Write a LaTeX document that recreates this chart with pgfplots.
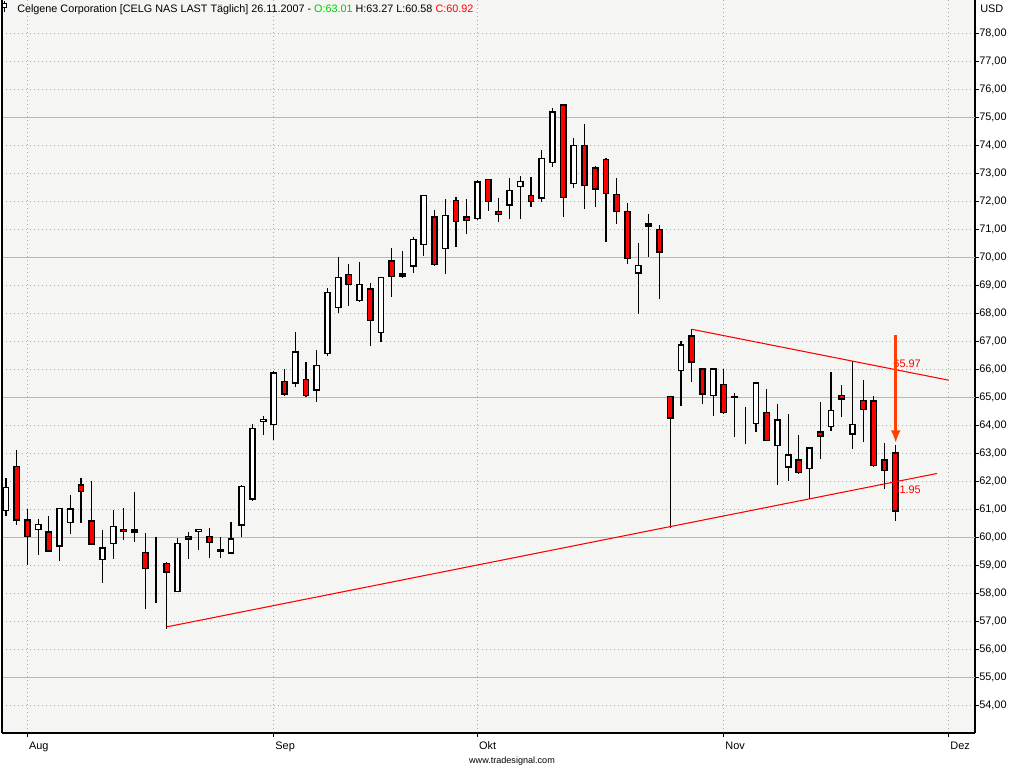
\documentclass[border=0pt]{standalone}
\usepackage{pgfplots}
\pgfplotsset{compat=1.18}
\usepackage{pgfplotstable}
\usetikzlibrary{arrows.meta}
\usepackage{fontspec}
\setmainfont{Liberation Sans}
\definecolor{bgc}{RGB}{245,246,243}
\definecolor{majgrid}{RGB}{178,190,168}
\definecolor{mingrid}{RGB}{165,178,150}
\definecolor{cred}{RGB}{255,0,0}
\definecolor{arrowc}{RGB}{255,64,0}
\definecolor{tgreen}{RGB}{0,200,0}

\pgfplotstableread{
i O H L C
0 60.95 62.09 60.76 61.77
1 62.52 63.11 60.44 60.60
2 60.60 61.00 59.01 60.02
3 60.27 60.63 59.37 60.45
4 60.17 60.74 59.45 59.49
5 59.67 61.03 59.15 61.02
6 60.52 61.50 60.12 60.99
7 61.85 62.09 60.51 61.63
8 60.57 62.01 59.72 59.74
9 59.20 60.25 58.37 59.60
10 59.77 60.96 59.23 60.38
11 60.27 61.02 59.90 60.20
12 60.17 61.61 59.83 60.24
13 59.45 60.14 57.44 58.88
14 59.27 60.01 57.65 59.27
15 59.06 59.10 56.71 58.74
16 58.05 59.98 58.05 59.77
17 60.02 60.17 59.23 59.92
18 60.20 60.27 59.55 60.27
19 60.02 60.32 59.26 59.81
20 59.53 60.00 59.26 59.50
21 59.42 60.54 59.42 59.92
22 60.42 61.85 59.99 61.81
23 61.35 64.04 61.30 63.88
24 64.13 64.33 63.66 64.20
25 64.02 65.94 63.46 65.85
26 65.56 66.00 65.05 65.10
27 65.49 67.31 65.37 66.60
28 65.63 66.25 64.99 65.05
29 65.24 66.68 64.83 66.13
30 66.56 68.88 66.48 68.74
31 68.20 70.00 67.99 69.27
32 69.38 69.74 68.26 69.02
33 68.45 69.81 68.41 69.02
34 68.85 69.06 66.83 67.74
35 67.31 69.27 66.98 69.27
36 69.85 70.31 68.56 69.31
37 69.39 70.21 69.24 69.32
38 69.67 70.73 69.44 70.63
39 70.45 72.20 70.05 72.20
40 71.42 71.68 69.67 69.74
41 70.31 72.07 69.38 71.49
42 72.02 72.13 70.37 71.27
43 71.42 72.07 70.83 71.31
44 71.38 72.75 71.31 72.67
45 72.77 72.77 71.63 71.99
46 71.63 72.10 71.24 71.52
47 71.85 72.81 71.35 72.38
48 72.52 72.88 71.35 72.70
49 72.20 72.85 71.77 71.99
50 72.10 73.81 71.95 73.52
51 73.38 75.31 73.20 75.17
52 75.42 75.42 71.42 72.13
53 72.63 74.24 72.48 73.99
54 73.99 74.74 71.70 72.56
55 73.17 73.24 71.77 72.42
56 73.49 73.52 70.55 72.27
57 72.24 72.81 71.17 71.63
58 71.63 71.92 69.74 69.95
59 69.42 70.49 67.95 69.70
60 71.10 71.52 69.99 71.17
61 70.99 71.13 68.49 70.17
62 65.02 65.05 60.31 64.24
63 65.95 66.99 64.69 66.85
64 67.17 67.42 65.52 66.24
65 65.99 65.99 64.74 65.10
66 65.06 65.99 64.33 65.99
67 65.45 65.99 64.38 64.45
68 65.00 65.13 63.56 64.98
69 64.06 64.63 63.31 64.06
70 64.06 65.52 63.74 65.49
71 64.45 65.27 63.42 63.45
72 63.27 64.74 61.87 64.17
73 62.49 64.38 61.99 62.92
74 62.74 63.63 62.24 62.31
75 62.45 63.17 61.35 63.17
76 63.74 64.81 62.77 63.60
77 63.95 65.88 63.77 64.52
78 65.06 65.42 64.27 64.92
79 63.67 66.27 63.13 64.02
80 64.88 65.60 63.38 64.56
81 64.85 65.02 62.49 62.56
82 62.74 63.35 61.70 62.38
83 63.01 63.27 60.58 60.92
}\ohlc

\pgfplotsset{
  chartgeom/.style={
    at={(1.5pt,26.25pt)}, anchor=south west,
    scale only axis, width=729.75pt, height=549.75pt,
    xmin=-0.373, xmax=90.44, ymin=53, ymax=79.18,
  }
}
\newcommand{\lblfont}{\fontsize{8.2}{9}\selectfont}

\begin{document}
\begin{tikzpicture}
\path[use as bounding box, fill=white] (0,0) rectangle (768pt,576pt);
% axis 1: frame, grid, ticks and wicks
\begin{axis}[chartgeom,
  axis background/.style={fill=bgc},
  axis x line*=bottom, axis y line*=right,
  axis line style={black, line width=0.9pt, -},
  tick align=outside,
  major tick length=3pt,
  tick style={black, line width=0.6pt},
  xtick={2,25,44,67,88},
  xticklabels={Aug,Sep,Okt,Nov,Dez},
  ytick={54,55,...,78},
  xticklabel style={anchor=north west, inner sep=0pt, xshift=1pt, yshift=-3.5pt, font=\lblfont},
  yticklabel style={anchor=west, inner sep=0pt, font=\lblfont,
    /pgf/number format/.cd, fixed, fixed zerofill, precision=2, use comma, assume math mode=true},
  xmajorgrids, ymajorgrids,
  major grid style={mingrid, line width=0.75pt, dash pattern=on 0.75pt off 2.25pt},
  extra y ticks={55,60,65,70,75},
  extra y tick labels={},
  extra y tick style={major grid style={majgrid, solid, line width=0.75pt}},
]
\addplot[draw=none, mark=none,
  error bars/.cd, y dir=minus, y explicit, error mark=none,
  error bar style={draw=black, solid, line width=0.9pt}]
  table[x=i, y=H, y error minus expr={\thisrow{H}-\thisrow{L}}] {\ohlc};
\end{axis}
% axis 2: candle bodies
\begin{axis}[chartgeom, hide axis, ybar stacked, bar width=0.5]
\addplot[draw=none, fill=none]
  table[x=i, y expr={min(\thisrow{O},\thisrow{C})}] {\ohlc};
\addplot[draw=black, fill=cred, line width=1.2pt]
  table[x=i, y expr={max(\thisrow{O}-\thisrow{C},0)}] {\ohlc};
\addplot[draw=black, fill=white, line width=1.2pt]
  table[x=i, y expr={max(\thisrow{C}-\thisrow{O},0)}] {\ohlc};
\end{axis}
% axis 3: trend lines and arrow
\begin{axis}[chartgeom, hide axis]
\addplot[cred, line width=0.8pt] coordinates {(15,56.79) (86.9,62.27)};
\addplot[cred, line width=0.8pt] coordinates {(64,67.42) (88,65.60)};
\node[anchor=west, inner sep=0pt, text=cred, font=\lblfont] at (axis cs:82.8,66.2) {65.97};
\node[anchor=west, inner sep=0pt, text=cred, font=\lblfont] at (axis cs:82.8,61.7) {61.95};
\addplot[arrowc, line width=2.25pt, -{Latex[length=9.5pt,width=7.5pt]}] coordinates {(83.04,67.21) (83.04,63.36)};
\end{axis}
\begin{scope}[shift={(0pt,576pt)}, x=0.75pt, y=-0.75pt]
  \draw[black, line width=0.9pt] (2,0) -- (2,733);
  \draw[black, line width=0.75pt] (4.5,1) -- (4.5,12);
  \draw[black, fill=white, line width=0.75pt] (2.8,3.5) rectangle (6.2,7.5);
  \node[anchor=base west, inner sep=0pt, font=\fontsize{8.1}{9}\selectfont] at (17,12.5)
    {Celgene Corporation [CELG NAS LAST Täglich] 26.11.2007 - \textcolor{tgreen}{O:63.01} H:63.27 L:60.58 \textcolor{cred}{C:60.92}};
  \node[anchor=base west, inner sep=0pt, font=\lblfont] at (980,12.5) {USD};
  \node[anchor=base, inner sep=0pt, font=\fontsize{6.8}{8}\selectfont] at (512,763) {www.tradesignal.com};
\end{scope}
\end{tikzpicture}
\end{document}
